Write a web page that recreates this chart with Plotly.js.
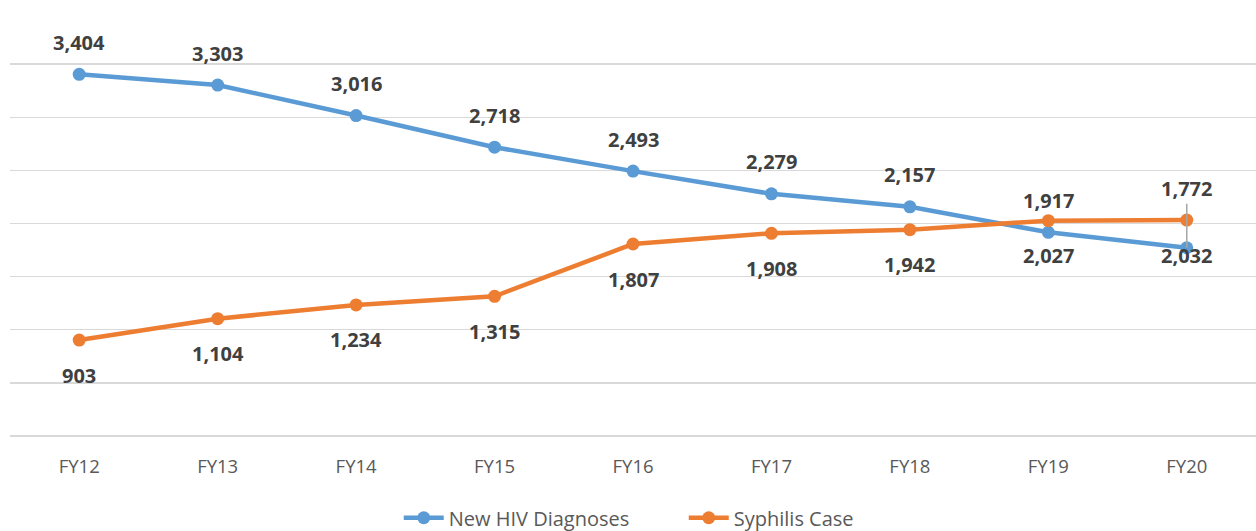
<!DOCTYPE html>
<html>
<head>
<meta charset="utf-8">
<script src="https://cdn.plot.ly/plotly-3.0.1.min.js"></script>
<style>html,body{margin:0;padding:0;background:#fff}#chart{width:1256px;height:531px}</style>
</head>
<body>
<div id="chart"></div>
<script>
const categories = ['FY12','FY13','FY14','FY15','FY16','FY17','FY18','FY19','FY20'];
const hivValues = [3404, 3303, 3016, 2718, 2493, 2279, 2157, 1917, 1772];
const syphilisValues = [903, 1104, 1234, 1315, 1807, 1908, 1942, 2027, 2032];
const seriesNames = ['New HIV Diagnoses', 'Syphilis Case'];

const blue = '#5B9BD5', orange = '#ED7D31';
const labelFont = {family: 'Open Sans, sans-serif', size: 20, color: '#404040', weight: 'bold'};

const traces = [
  {x: categories, y: hivValues, name: seriesNames[0], type: 'scatter', mode: 'lines+markers',
   line: {color: blue, width: 4.5}, marker: {color: blue, size: 13}, hoverinfo: 'skip'},
  {x: categories, y: syphilisValues, name: seriesNames[1], type: 'scatter', mode: 'lines+markers',
   line: {color: orange, width: 4.5}, marker: {color: orange, size: 13}, hoverinfo: 'skip'}
];

const fmt = v => v.toLocaleString('en-US');
const annotations = [];
const last = categories.length - 1;
hivValues.forEach((v, i) => {
  if (i === last) {
    annotations.push({x: categories[i], y: v, text: '<b>' + fmt(v) + '</b>', showarrow: true,
      arrowhead: 0, arrowwidth: 1.5, arrowcolor: '#A6A6A6', ax: 0, ay: -59, standoff: 0,
      font: labelFont});
  } else {
    annotations.push({x: categories[i], y: v, text: '<b>' + fmt(v) + '</b>', showarrow: false,
      yshift: 32, font: labelFont});
  }
});
syphilisValues.forEach((v, i) => {
  annotations.push({x: categories[i], y: v, text: '<b>' + fmt(v) + '</b>', showarrow: false,
    yshift: -35, font: labelFont});
});

const layout = {
  width: 1256, height: 531,
  margin: {l: 10, r: 0, t: 11, b: 95},
  paper_bgcolor: '#fff', plot_bgcolor: '#fff',
  font: {family: 'Open Sans, sans-serif', color: '#595959'},
  xaxis: {type: 'category', range: [-0.5, 8.5], showgrid: false, zeroline: false,
    showline: false, ticks: '', tickfont: {size: 18.5, color: '#595959'}, ticklabelstandoff: 17,
    fixedrange: true},
  yaxis: {range: [0, 4000], dtick: 500, showticklabels: false, gridcolor: '#D9D9D9', gridwidth: 1.3,
    zeroline: true, zerolinecolor: '#D9D9D9', zerolinewidth: 1.3, showline: false, fixedrange: true},
  showlegend: true,
  legend: {orientation: 'h', x: 0.312, xanchor: 'left', yref: 'container', y: 0.025, yanchor: 'middle',
    font: {size: 20, color: '#595959'}, itemwidth: 40, entrywidth: 230, traceorder: 'normal'},
  annotations: annotations
};

Plotly.newPlot('chart', traces, layout, {displayModeBar: false, staticPlot: true});
</script>
</body>
</html>
